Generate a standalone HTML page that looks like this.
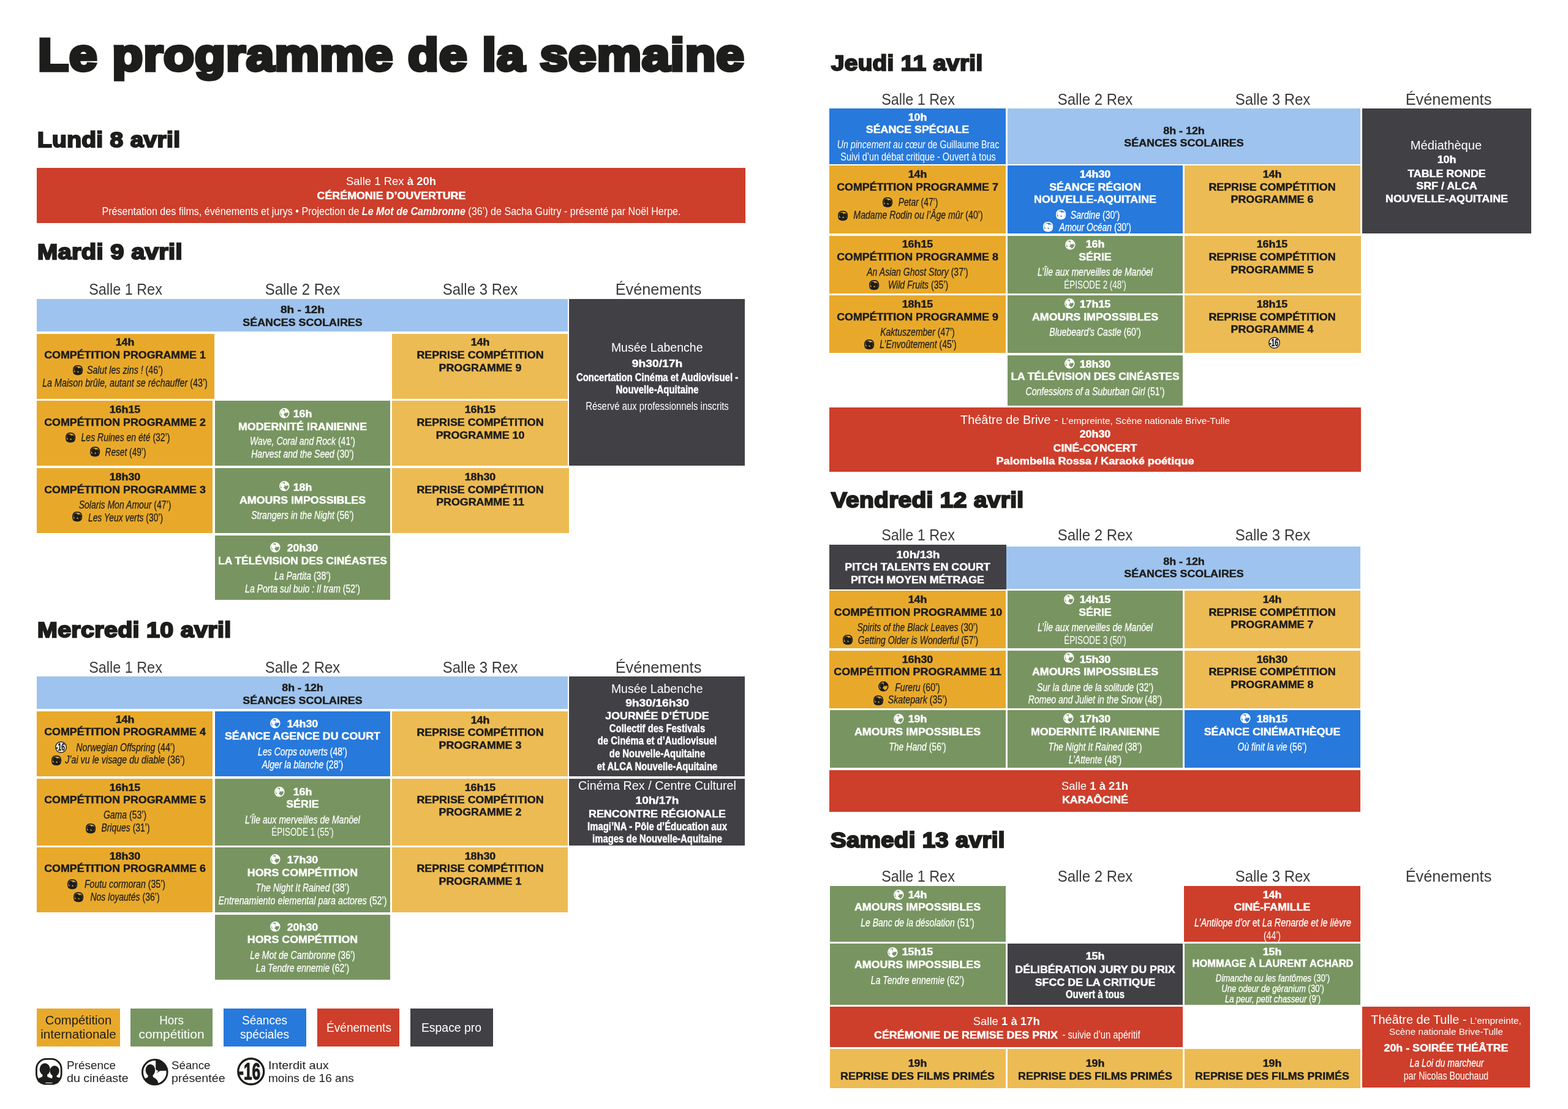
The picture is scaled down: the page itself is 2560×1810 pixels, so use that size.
<!DOCTYPE html>
<html lang="fr"><head><meta charset="utf-8"><title>Le programme de la semaine</title>
<style>
html,body{margin:0;padding:0;background:#fff}
body{width:2560px;height:1810px;position:relative;overflow:hidden;font-family:"Liberation Sans",sans-serif}
.bx{position:absolute}
.ln{position:absolute;width:1200px;height:24px;line-height:24px;text-align:center;white-space:nowrap;transform-origin:50% 50%}
.ll{position:absolute;height:24px;line-height:24px;white-space:nowrap;transform-origin:0 50%}
.B{font-weight:bold;-webkit-text-stroke:0.45px currentColor}.I{font-style:italic;-webkit-text-stroke:0.25px currentColor}.R{font-weight:normal}
.n{font-style:normal}
.hd{position:absolute;white-space:nowrap;font-weight:bold;color:#1d1d1b;paint-order:stroke fill;transform-origin:0 50%}
.ic{position:absolute;overflow:visible}
</style></head>
<body>
<div class="hd" style="left:62.3px;top:53.94px;font-size:73.2px;line-height:73.2px;letter-spacing:1.00px;-webkit-text-stroke:5.4px #1d1d1b;transform:scaleX(1.1151)">Le programme de la semaine</div>
<div class="hd" style="left:60.6px;top:211.11px;font-size:35.6px;line-height:35.6px;letter-spacing:0.30px;-webkit-text-stroke:2.3px #1d1d1b;transform:scaleX(1.0929)">Lundi 8 avril</div>
<div class="hd" style="left:60.6px;top:393.85px;font-size:35.8px;line-height:35.8px;letter-spacing:0.30px;-webkit-text-stroke:2.3px #1d1d1b;transform:scaleX(1.1128)">Mardi 9 avril</div>
<div class="hd" style="left:60.6px;top:1010.51px;font-size:35.6px;line-height:35.6px;letter-spacing:0.30px;-webkit-text-stroke:2.3px #1d1d1b;transform:scaleX(1.1067)">Mercredi 10 avril</div>
<div class="hd" style="left:1356.6px;top:85.71px;font-size:35.6px;line-height:35.6px;letter-spacing:0.30px;-webkit-text-stroke:2.3px #1d1d1b;transform:scaleX(1.0868)">Jeudi 11 avril</div>
<div class="hd" style="left:1356.6px;top:799.31px;font-size:35.6px;line-height:35.6px;letter-spacing:0.30px;-webkit-text-stroke:2.3px #1d1d1b;transform:scaleX(1.0920)">Vendredi 12 avril</div>
<div class="hd" style="left:1355.5px;top:1353.91px;font-size:35.6px;line-height:35.6px;letter-spacing:0.30px;-webkit-text-stroke:2.3px #1d1d1b;transform:scaleX(1.0802)">Samedi 13 avril</div>
<div class="bx" style="left:59.7px;top:274.2px;width:1157.7px;height:90.3px;background:#cd3e2b"></div>
<div class="ln R" style="left:38.5px;top:284.29px;font-size:18.5px;color:#ffffff;transform:scaleX(1.0000);">Salle 1 Rex <b>à 20h</b></div>
<div class="ln B" style="left:38.5px;top:308.25px;font-size:16.6px;color:#ffffff;transform:scaleX(1.0750);">CÉRÉMONIE D’OUVERTURE</div>
<div class="ln R" style="left:38.5px;top:332.76px;font-size:18.0px;color:#ffffff;transform:scaleX(0.8943);">Présentation des films, événements et jurys • Projection de <b><i>Le Mot de Cambronne</i></b> (36’) de Sacha Guitry - présenté par Noël Herpe.</div>
<div class="ln R" style="left:-395.2px;top:460.49px;font-size:26.0px;color:#3a3a3a;transform:scaleX(0.9002);">Salle 1 Rex</div>
<div class="ln R" style="left:-106.1px;top:460.49px;font-size:26.0px;color:#3a3a3a;transform:scaleX(0.9220);">Salle 2 Rex</div>
<div class="ln R" style="left:183.9px;top:460.49px;font-size:26.0px;color:#3a3a3a;transform:scaleX(0.9220);">Salle 3 Rex</div>
<div class="ln R" style="left:475.3px;top:460.49px;font-size:26.0px;color:#3a3a3a;transform:scaleX(0.9728);">Événements</div>
<div class="bx" style="left:59.7px;top:487.7px;width:867.6px;height:53.3px;background:#9dc3ee"></div>
<div class="ln B" style="left:-105.8px;top:494.05px;font-size:16.6px;color:#1d1d1b;transform:scaleX(1.1480);">8h - 12h</div>
<div class="ln B" style="left:-106.4px;top:515.15px;font-size:16.6px;color:#1d1d1b;transform:scaleX(1.0750);">SÉANCES SCOLAIRES</div>
<div class="bx" style="left:929.1px;top:487.5px;width:287.2px;height:272.5px;background:#414045"></div>
<div class="ln R" style="left:472.7px;top:554.64px;font-size:19.5px;color:#ffffff;transform:scaleX(1.0000);">Musée Labenche</div>
<div class="ln B" style="left:473.0px;top:582.25px;font-size:16.6px;color:#ffffff;transform:scaleX(1.1601);">9h30/17h</div>
<div class="ln B" style="left:472.7px;top:604.19px;font-size:18.5px;color:#ffffff;transform:scaleX(0.8050);">Concertation Cinéma et Audiovisuel -</div>
<div class="ln B" style="left:472.7px;top:623.89px;font-size:18.5px;color:#ffffff;transform:scaleX(0.8050);">Nouvelle-Aquitaine</div>
<div class="ln R" style="left:472.7px;top:651.06px;font-size:18.0px;color:#ffffff;transform:scaleX(0.8250);">Réservé aux professionnels inscrits</div>
<div class="bx" style="left:59.7px;top:544.8px;width:289.9px;height:106.2px;background:#e8a92b"></div>
<div class="ln B" style="left:-396.4px;top:547.25px;font-size:16.6px;color:#1d1d1b;transform:scaleX(1.0750);">14h</div>
<div class="ln B" style="left:-396.4px;top:567.85px;font-size:16.6px;color:#1d1d1b;transform:scaleX(1.0750);">COMPÉTITION PROGRAMME 1</div>
<div class="ln I" style="left:-395.6px;top:591.90px;font-size:17.6px;color:#1d1d1b;transform:scaleX(0.8090);">Salut les zins ! <span class="n">(46’)</span></div>
<div class="ln I" style="left:-395.6px;top:612.70px;font-size:17.6px;color:#1d1d1b;transform:scaleX(0.8135);">La Maison brûle, autant se réchauffer <span class="n">(43’)</span></div>
<svg class="ic" style="left:118.7px;top:596.1px;width:16.2px;height:16.2px;color:#1d1d1b" viewBox="0 0 44 44"><rect x="2.30" y="2.30" width="39.40" height="39.40" rx="16.500" ry="16.500" fill="none" stroke="currentColor" stroke-width="4.6"/><ellipse cx="31.400" cy="21" rx="8.6" ry="9.6" fill="currentColor"/><path d="M28.500 27.500h6l.4 3.200q3.200 1.200 6.600 2.600l-3.600 6.200h-12z" fill="currentColor"/><ellipse cx="15.400" cy="18.400" rx="9.6" ry="11.0" fill="currentColor"/><path d="M11.800 26h7.200l.600 4.600q4 2.600 9.400 3.400l2 5.500h-26.500l-2.200-4.700q4.600-2.200 9-4.200z" fill="currentColor"/><path d="M2.800 31.500q9 -2.500 19.200 1q10 -3 19.200 -1q-1.500 5.500 -5.700 8.300h-27q-4.200 -2.800 -5.700 -8.300z" fill="currentColor"/></svg>
<div class="bx" style="left:640.0px;top:544.8px;width:287.3px;height:106.2px;background:#edbb53"></div>
<div class="ln B" style="left:183.6px;top:547.25px;font-size:16.6px;color:#1d1d1b;transform:scaleX(1.0750);">14h</div>
<div class="ln B" style="left:183.6px;top:568.25px;font-size:16.6px;color:#1d1d1b;transform:scaleX(1.0750);">REPRISE COMPÉTITION</div>
<div class="ln B" style="left:183.6px;top:589.25px;font-size:16.6px;color:#1d1d1b;transform:scaleX(1.0750);">PROGRAMME 9</div>
<div class="bx" style="left:59.7px;top:654.0px;width:287.8px;height:106.0px;background:#e8a92b"></div>
<div class="ln B" style="left:-396.4px;top:656.85px;font-size:16.6px;color:#1d1d1b;transform:scaleX(1.0750);">16h15</div>
<div class="ln B" style="left:-396.4px;top:677.85px;font-size:16.6px;color:#1d1d1b;transform:scaleX(1.0750);">COMPÉTITION PROGRAMME 2</div>
<div class="ln I" style="left:-395.4px;top:702.30px;font-size:17.6px;color:#1d1d1b;transform:scaleX(0.7965);">Les Ruines en été <span class="n">(32’)</span></div>
<div class="ln I" style="left:-395.4px;top:725.70px;font-size:17.6px;color:#1d1d1b;transform:scaleX(0.7773);">Reset <span class="n">(49’)</span></div>
<svg class="ic" style="left:107.3px;top:706.0px;width:16.2px;height:16.2px;color:#1d1d1b" viewBox="0 0 44 44"><rect x="2.30" y="2.30" width="39.40" height="39.40" rx="16.500" ry="16.500" fill="none" stroke="currentColor" stroke-width="4.6"/><ellipse cx="31.400" cy="21" rx="8.6" ry="9.6" fill="currentColor"/><path d="M28.500 27.500h6l.4 3.200q3.200 1.200 6.600 2.600l-3.600 6.200h-12z" fill="currentColor"/><ellipse cx="15.400" cy="18.400" rx="9.6" ry="11.0" fill="currentColor"/><path d="M11.800 26h7.200l.600 4.600q4 2.600 9.400 3.400l2 5.500h-26.500l-2.200-4.700q4.600-2.200 9-4.200z" fill="currentColor"/><path d="M2.800 31.500q9 -2.500 19.200 1q10 -3 19.200 -1q-1.500 5.500 -5.700 8.300h-27q-4.200 -2.800 -5.700 -8.300z" fill="currentColor"/></svg>
<svg class="ic" style="left:146.9px;top:728.9px;width:16.2px;height:16.2px;color:#1d1d1b" viewBox="0 0 44 44"><rect x="2.30" y="2.30" width="39.40" height="39.40" rx="16.500" ry="16.500" fill="none" stroke="currentColor" stroke-width="4.6"/><ellipse cx="31.400" cy="21" rx="8.6" ry="9.6" fill="currentColor"/><path d="M28.500 27.500h6l.4 3.200q3.200 1.200 6.600 2.600l-3.600 6.200h-12z" fill="currentColor"/><ellipse cx="15.400" cy="18.400" rx="9.6" ry="11.0" fill="currentColor"/><path d="M11.800 26h7.200l.600 4.600q4 2.600 9.400 3.400l2 5.500h-26.500l-2.200-4.700q4.600-2.200 9-4.200z" fill="currentColor"/><path d="M2.800 31.500q9 -2.500 19.200 1q10 -3 19.200 -1q-1.500 5.500 -5.700 8.300h-27q-4.200 -2.800 -5.700 -8.300z" fill="currentColor"/></svg>
<div class="bx" style="left:350.6px;top:654.0px;width:286.1px;height:106.0px;background:#789561"></div>
<div class="ln B" style="left:-106.3px;top:664.05px;font-size:16.6px;color:#ffffff;transform:scaleX(1.0750);">16h</div>
<div class="ln B" style="left:-106.3px;top:684.65px;font-size:16.6px;color:#ffffff;transform:scaleX(1.0750);">MODERNITÉ IRANIENNE</div>
<div class="ln I" style="left:-106.3px;top:707.90px;font-size:17.6px;color:#ffffff;transform:scaleX(0.7970);">Wave, Coral and Rock <span class="n">(41’)</span></div>
<div class="ln I" style="left:-106.3px;top:728.90px;font-size:17.6px;color:#ffffff;transform:scaleX(0.7970);">Harvest and the Seed <span class="n">(30’)</span></div>
<svg class="ic" style="left:455.5px;top:666.4px;width:16.6px;height:16.6px;color:#ffffff" viewBox="0 0 44 44"><circle cx="22" cy="22" r="19.80" fill="none" stroke="currentColor" stroke-width="4.4"/><path d="M23.400 1.600v15.600q1.200 2.400 4.400 2.600l-3.400 4l6.200-3.800l11.800-.4a20.600 20.600 0 0 0-19-18z" fill="currentColor"/><ellipse cx="14.600" cy="18.800" rx="8.7" ry="10.5" fill="currentColor"/><path d="M11 26h7.400l.800 4.400q5.600 2.600 7.400 6.200l1.400 5.400q-3.200 1.200 -6 1.200q-10.800 0 -17.600 -9.200q3 -2.400 6 -3.400z" fill="currentColor"/></svg>
<div class="bx" style="left:640.0px;top:654.0px;width:287.3px;height:106.0px;background:#edbb53"></div>
<div class="ln B" style="left:183.6px;top:657.25px;font-size:16.6px;color:#1d1d1b;transform:scaleX(1.0750);">16h15</div>
<div class="ln B" style="left:183.6px;top:678.25px;font-size:16.6px;color:#1d1d1b;transform:scaleX(1.0750);">REPRISE COMPÉTITION</div>
<div class="ln B" style="left:183.6px;top:698.95px;font-size:16.6px;color:#1d1d1b;transform:scaleX(1.0750);">PROGRAMME 10</div>
<div class="bx" style="left:59.7px;top:763.8px;width:287.8px;height:106.0px;background:#e8a92b"></div>
<div class="ln B" style="left:-396.4px;top:767.25px;font-size:16.6px;color:#1d1d1b;transform:scaleX(1.0750);">18h30</div>
<div class="ln B" style="left:-396.4px;top:787.85px;font-size:16.6px;color:#1d1d1b;transform:scaleX(1.0750);">COMPÉTITION PROGRAMME 3</div>
<div class="ln I" style="left:-396.4px;top:811.50px;font-size:17.6px;color:#1d1d1b;transform:scaleX(0.7970);">Solaris Mon Amour <span class="n">(47’)</span></div>
<div class="ln I" style="left:-395.1px;top:832.70px;font-size:17.6px;color:#1d1d1b;transform:scaleX(0.7869);">Les Yeux verts <span class="n">(30’)</span></div>
<svg class="ic" style="left:118.4px;top:835.3px;width:16.2px;height:16.2px;color:#1d1d1b" viewBox="0 0 44 44"><rect x="2.30" y="2.30" width="39.40" height="39.40" rx="16.500" ry="16.500" fill="none" stroke="currentColor" stroke-width="4.6"/><ellipse cx="31.400" cy="21" rx="8.6" ry="9.6" fill="currentColor"/><path d="M28.500 27.500h6l.4 3.200q3.200 1.200 6.600 2.600l-3.600 6.200h-12z" fill="currentColor"/><ellipse cx="15.400" cy="18.400" rx="9.6" ry="11.0" fill="currentColor"/><path d="M11.800 26h7.200l.600 4.600q4 2.600 9.400 3.400l2 5.500h-26.500l-2.200-4.700q4.600-2.200 9-4.200z" fill="currentColor"/><path d="M2.800 31.500q9 -2.500 19.200 1q10 -3 19.200 -1q-1.500 5.500 -5.700 8.300h-27q-4.200 -2.800 -5.700 -8.300z" fill="currentColor"/></svg>
<div class="bx" style="left:350.6px;top:763.8px;width:286.1px;height:106.0px;background:#789561"></div>
<div class="ln B" style="left:-106.3px;top:783.85px;font-size:16.6px;color:#ffffff;transform:scaleX(1.0750);">18h</div>
<div class="ln B" style="left:-106.3px;top:804.55px;font-size:16.6px;color:#ffffff;transform:scaleX(1.0750);">AMOURS IMPOSSIBLES</div>
<div class="ln I" style="left:-106.3px;top:828.90px;font-size:17.6px;color:#ffffff;transform:scaleX(0.7970);">Strangers in the Night <span class="n">(56’)</span></div>
<svg class="ic" style="left:455.5px;top:785.1px;width:16.6px;height:16.6px;color:#ffffff" viewBox="0 0 44 44"><circle cx="22" cy="22" r="19.80" fill="none" stroke="currentColor" stroke-width="4.4"/><path d="M23.400 1.600v15.600q1.200 2.400 4.400 2.600l-3.400 4l6.200-3.800l11.800-.4a20.600 20.600 0 0 0-19-18z" fill="currentColor"/><ellipse cx="14.600" cy="18.800" rx="8.7" ry="10.5" fill="currentColor"/><path d="M11 26h7.400l.800 4.400q5.600 2.600 7.400 6.200l1.400 5.400q-3.200 1.200 -6 1.200q-10.800 0 -17.600 -9.200q3 -2.400 6 -3.400z" fill="currentColor"/></svg>
<div class="bx" style="left:640.0px;top:763.8px;width:288.7px;height:106.0px;background:#edbb53"></div>
<div class="ln B" style="left:183.6px;top:767.25px;font-size:16.6px;color:#1d1d1b;transform:scaleX(1.0750);">18h30</div>
<div class="ln B" style="left:183.6px;top:787.85px;font-size:16.6px;color:#1d1d1b;transform:scaleX(1.0750);">REPRISE COMPÉTITION</div>
<div class="ln B" style="left:183.6px;top:808.45px;font-size:16.6px;color:#1d1d1b;transform:scaleX(1.0750);">PROGRAMME 11</div>
<div class="bx" style="left:350.6px;top:873.7px;width:286.1px;height:105.3px;background:#789561"></div>
<div class="ln B" style="left:-106.3px;top:883.25px;font-size:16.6px;color:#ffffff;transform:scaleX(1.0750);">20h30</div>
<div class="ln B" style="left:-106.4px;top:903.75px;font-size:16.6px;color:#ffffff;transform:scaleX(1.0487);">LA TÉLÉVISION DES CINÉASTES</div>
<div class="ln I" style="left:-106.3px;top:927.50px;font-size:17.6px;color:#ffffff;transform:scaleX(0.7970);">La Partita <span class="n">(38’)</span></div>
<div class="ln I" style="left:-106.3px;top:948.70px;font-size:17.6px;color:#ffffff;transform:scaleX(0.7970);">La Porta sul buio : Il tram <span class="n">(52’)</span></div>
<svg class="ic" style="left:440.5px;top:884.9px;width:16.6px;height:16.6px;color:#ffffff" viewBox="0 0 44 44"><circle cx="22" cy="22" r="19.80" fill="none" stroke="currentColor" stroke-width="4.4"/><path d="M23.400 1.600v15.600q1.200 2.400 4.400 2.600l-3.400 4l6.200-3.800l11.800-.4a20.600 20.600 0 0 0-19-18z" fill="currentColor"/><ellipse cx="14.600" cy="18.800" rx="8.7" ry="10.5" fill="currentColor"/><path d="M11 26h7.400l.800 4.400q5.600 2.600 7.400 6.200l1.400 5.400q-3.200 1.200 -6 1.200q-10.800 0 -17.600 -9.200q3 -2.400 6 -3.400z" fill="currentColor"/></svg>
<div class="ln R" style="left:-395.2px;top:1077.09px;font-size:26.0px;color:#3a3a3a;transform:scaleX(0.9002);">Salle 1 Rex</div>
<div class="ln R" style="left:-106.1px;top:1077.09px;font-size:26.0px;color:#3a3a3a;transform:scaleX(0.9220);">Salle 2 Rex</div>
<div class="ln R" style="left:183.9px;top:1077.09px;font-size:26.0px;color:#3a3a3a;transform:scaleX(0.9220);">Salle 3 Rex</div>
<div class="ln R" style="left:475.3px;top:1077.09px;font-size:26.0px;color:#3a3a3a;transform:scaleX(0.9728);">Événements</div>
<div class="bx" style="left:59.7px;top:1104.2px;width:867.6px;height:53.0px;background:#9dc3ee"></div>
<div class="ln B" style="left:-106.4px;top:1110.95px;font-size:16.6px;color:#1d1d1b;transform:scaleX(1.0750);">8h - 12h</div>
<div class="ln B" style="left:-106.4px;top:1131.55px;font-size:16.6px;color:#1d1d1b;transform:scaleX(1.0750);">SÉANCES SCOLAIRES</div>
<div class="bx" style="left:929.1px;top:1104.2px;width:287.2px;height:162.8px;background:#414045"></div>
<div class="ln R" style="left:472.7px;top:1112.24px;font-size:19.5px;color:#ffffff;transform:scaleX(1.0000);">Musée Labenche</div>
<div class="ln B" style="left:472.8px;top:1136.05px;font-size:16.6px;color:#ffffff;transform:scaleX(1.1589);">9h30/16h30</div>
<div class="ln B" style="left:472.7px;top:1156.75px;font-size:16.6px;color:#ffffff;transform:scaleX(1.0750);">JOURNÉE D’ÉTUDE</div>
<div class="ln B" style="left:472.7px;top:1176.59px;font-size:18.5px;color:#ffffff;transform:scaleX(0.8050);">Collectif des Festivals</div>
<div class="ln B" style="left:472.7px;top:1197.29px;font-size:18.5px;color:#ffffff;transform:scaleX(0.8050);">de Cinéma et d’Audiovisuel</div>
<div class="ln B" style="left:472.7px;top:1217.99px;font-size:18.5px;color:#ffffff;transform:scaleX(0.8050);">de Nouvelle-Aquitaine</div>
<div class="ln B" style="left:472.7px;top:1238.59px;font-size:18.5px;color:#ffffff;transform:scaleX(0.8050);">et ALCA Nouvelle-Aquitaine</div>
<div class="bx" style="left:929.1px;top:1271.0px;width:287.2px;height:108.6px;background:#414045"></div>
<div class="ln R" style="left:473.0px;top:1269.94px;font-size:19.5px;color:#ffffff;transform:scaleX(1.0130);">Cinéma Rex / Centre Culturel</div>
<div class="ln B" style="left:473.2px;top:1294.95px;font-size:16.6px;color:#ffffff;transform:scaleX(1.1470);">10h/17h</div>
<div class="ln B" style="left:472.7px;top:1317.25px;font-size:16.6px;color:#ffffff;transform:scaleX(1.0750);">RENCONTRE RÉGIONALE</div>
<div class="ln B" style="left:472.7px;top:1336.59px;font-size:18.5px;color:#ffffff;transform:scaleX(0.8050);">Imagi’NA - Pôle d’Éducation aux</div>
<div class="ln B" style="left:472.7px;top:1356.59px;font-size:18.5px;color:#ffffff;transform:scaleX(0.8050);">images de Nouvelle-Aquitaine</div>
<div class="bx" style="left:59.7px;top:1161.1px;width:287.8px;height:105.9px;background:#e8a92b"></div>
<div class="ln B" style="left:-396.4px;top:1163.15px;font-size:16.6px;color:#1d1d1b;transform:scaleX(1.0750);">14h</div>
<div class="ln B" style="left:-396.4px;top:1183.35px;font-size:16.6px;color:#1d1d1b;transform:scaleX(1.0750);">COMPÉTITION PROGRAMME 4</div>
<div class="ln I" style="left:-395.5px;top:1208.30px;font-size:17.6px;color:#1d1d1b;transform:scaleX(0.8051);">Norwegian Offspring <span class="n">(44’)</span></div>
<div class="ln I" style="left:-395.6px;top:1228.30px;font-size:17.6px;color:#1d1d1b;transform:scaleX(0.8134);">J’ai vu le visage du diable <span class="n">(36’)</span></div>
<svg class="ic" style="left:89.9px;top:1210.3px;width:19px;height:19px;color:#1d1d1b" viewBox="0 0 44 44"><circle cx="22" cy="22" r="20.300" fill="#fff" stroke="currentColor" stroke-width="3.200"/><text transform="translate(19.800 34.600) scale(0.64 1)" text-anchor="middle" font-family="Liberation Sans, sans-serif" font-weight="bold" font-size="37" fill="currentColor" stroke="currentColor" stroke-width="1.200" letter-spacing="0">-16</text></svg>
<svg class="ic" style="left:84.1px;top:1232.9px;width:16.2px;height:16.2px;color:#1d1d1b" viewBox="0 0 44 44"><rect x="2.30" y="2.30" width="39.40" height="39.40" rx="16.500" ry="16.500" fill="none" stroke="currentColor" stroke-width="4.6"/><ellipse cx="31.400" cy="21" rx="8.6" ry="9.6" fill="currentColor"/><path d="M28.500 27.500h6l.4 3.200q3.200 1.200 6.600 2.600l-3.600 6.200h-12z" fill="currentColor"/><ellipse cx="15.400" cy="18.400" rx="9.6" ry="11.0" fill="currentColor"/><path d="M11.800 26h7.200l.600 4.600q4 2.600 9.400 3.400l2 5.500h-26.500l-2.200-4.700q4.600-2.200 9-4.200z" fill="currentColor"/><path d="M2.800 31.500q9 -2.500 19.200 1q10 -3 19.200 -1q-1.500 5.500 -5.700 8.300h-27q-4.200 -2.800 -5.700 -8.300z" fill="currentColor"/></svg>
<div class="bx" style="left:350.6px;top:1161.1px;width:286.1px;height:105.9px;background:#2779db"></div>
<div class="ln B" style="left:-106.3px;top:1169.55px;font-size:16.6px;color:#ffffff;transform:scaleX(1.0750);">14h30</div>
<div class="ln B" style="left:-106.3px;top:1190.45px;font-size:16.6px;color:#ffffff;transform:scaleX(1.0750);">SÉANCE AGENCE DU COURT</div>
<div class="ln I" style="left:-106.3px;top:1214.90px;font-size:17.6px;color:#ffffff;transform:scaleX(0.7970);">Les Corps ouverts <span class="n">(48’)</span></div>
<div class="ln I" style="left:-106.3px;top:1235.50px;font-size:17.6px;color:#ffffff;transform:scaleX(0.7970);">Alger la blanche <span class="n">(28’)</span></div>
<svg class="ic" style="left:440.7px;top:1172.3px;width:16.6px;height:16.6px;color:#ffffff" viewBox="0 0 44 44"><circle cx="22" cy="22" r="19.80" fill="none" stroke="currentColor" stroke-width="4.4"/><path d="M23.400 1.600v15.600q1.200 2.400 4.400 2.600l-3.400 4l6.200-3.800l11.800-.4a20.600 20.600 0 0 0-19-18z" fill="currentColor"/><ellipse cx="14.600" cy="18.800" rx="8.7" ry="10.5" fill="currentColor"/><path d="M11 26h7.400l.800 4.400q5.600 2.600 7.400 6.200l1.400 5.400q-3.200 1.200 -6 1.200q-10.800 0 -17.600 -9.200q3 -2.400 6 -3.400z" fill="currentColor"/></svg>
<div class="bx" style="left:640.0px;top:1161.1px;width:287.3px;height:105.9px;background:#edbb53"></div>
<div class="ln B" style="left:183.6px;top:1163.55px;font-size:16.6px;color:#1d1d1b;transform:scaleX(1.0750);">14h</div>
<div class="ln B" style="left:183.6px;top:1183.95px;font-size:16.6px;color:#1d1d1b;transform:scaleX(1.0750);">REPRISE COMPÉTITION</div>
<div class="ln B" style="left:183.6px;top:1204.65px;font-size:16.6px;color:#1d1d1b;transform:scaleX(1.0750);">PROGRAMME 3</div>
<div class="bx" style="left:59.7px;top:1271.0px;width:287.8px;height:108.6px;background:#e8a92b"></div>
<div class="ln B" style="left:-396.4px;top:1273.75px;font-size:16.6px;color:#1d1d1b;transform:scaleX(1.0750);">16h15</div>
<div class="ln B" style="left:-396.4px;top:1293.75px;font-size:16.6px;color:#1d1d1b;transform:scaleX(1.0750);">COMPÉTITION PROGRAMME 5</div>
<div class="ln I" style="left:-396.4px;top:1318.00px;font-size:17.6px;color:#1d1d1b;transform:scaleX(0.7970);">Gama <span class="n">(53’)</span></div>
<div class="ln I" style="left:-395.4px;top:1338.70px;font-size:17.6px;color:#1d1d1b;transform:scaleX(0.7940);">Briques <span class="n">(31’)</span></div>
<svg class="ic" style="left:140.2px;top:1343.5px;width:16.2px;height:16.2px;color:#1d1d1b" viewBox="0 0 44 44"><rect x="2.30" y="2.30" width="39.40" height="39.40" rx="16.500" ry="16.500" fill="none" stroke="currentColor" stroke-width="4.6"/><ellipse cx="31.400" cy="21" rx="8.6" ry="9.6" fill="currentColor"/><path d="M28.500 27.500h6l.4 3.200q3.200 1.200 6.600 2.600l-3.600 6.200h-12z" fill="currentColor"/><ellipse cx="15.400" cy="18.400" rx="9.6" ry="11.0" fill="currentColor"/><path d="M11.800 26h7.200l.600 4.600q4 2.600 9.400 3.400l2 5.500h-26.500l-2.200-4.700q4.600-2.200 9-4.200z" fill="currentColor"/><path d="M2.800 31.500q9 -2.500 19.200 1q10 -3 19.200 -1q-1.500 5.500 -5.700 8.300h-27q-4.200 -2.800 -5.700 -8.300z" fill="currentColor"/></svg>
<div class="bx" style="left:350.6px;top:1271.0px;width:286.1px;height:108.6px;background:#789561"></div>
<div class="ln B" style="left:-106.3px;top:1280.95px;font-size:16.6px;color:#ffffff;transform:scaleX(1.0750);">16h</div>
<div class="ln B" style="left:-106.3px;top:1301.05px;font-size:16.6px;color:#ffffff;transform:scaleX(1.0750);">SÉRIE</div>
<div class="ln I" style="left:-106.3px;top:1326.40px;font-size:17.6px;color:#ffffff;transform:scaleX(0.7970);">L’Île aux merveilles de Manöel</div>
<div class="ln R" style="left:-106.3px;top:1346.36px;font-size:18.0px;color:#ffffff;transform:scaleX(0.7450);">ÉPISODE 1 (55’)</div>
<svg class="ic" style="left:447.7px;top:1283.7px;width:16.6px;height:16.6px;color:#ffffff" viewBox="0 0 44 44"><circle cx="22" cy="22" r="19.80" fill="none" stroke="currentColor" stroke-width="4.4"/><path d="M23.400 1.600v15.600q1.200 2.400 4.400 2.600l-3.400 4l6.200-3.800l11.800-.4a20.600 20.600 0 0 0-19-18z" fill="currentColor"/><ellipse cx="14.600" cy="18.800" rx="8.7" ry="10.5" fill="currentColor"/><path d="M11 26h7.400l.800 4.400q5.600 2.600 7.400 6.200l1.400 5.400q-3.200 1.200 -6 1.200q-10.800 0 -17.600 -9.200q3 -2.400 6 -3.400z" fill="currentColor"/></svg>
<div class="bx" style="left:640.0px;top:1271.0px;width:287.3px;height:108.6px;background:#edbb53"></div>
<div class="ln B" style="left:183.6px;top:1273.75px;font-size:16.6px;color:#1d1d1b;transform:scaleX(1.0750);">16h15</div>
<div class="ln B" style="left:183.6px;top:1293.75px;font-size:16.6px;color:#1d1d1b;transform:scaleX(1.0750);">REPRISE COMPÉTITION</div>
<div class="ln B" style="left:183.6px;top:1314.45px;font-size:16.6px;color:#1d1d1b;transform:scaleX(1.0750);">PROGRAMME 2</div>
<div class="bx" style="left:59.7px;top:1383.0px;width:287.8px;height:105.9px;background:#e8a92b"></div>
<div class="ln B" style="left:-396.4px;top:1385.75px;font-size:16.6px;color:#1d1d1b;transform:scaleX(1.0750);">18h30</div>
<div class="ln B" style="left:-396.4px;top:1406.35px;font-size:16.6px;color:#1d1d1b;transform:scaleX(1.0750);">COMPÉTITION PROGRAMME 6</div>
<div class="ln I" style="left:-395.6px;top:1430.60px;font-size:17.6px;color:#1d1d1b;transform:scaleX(0.8041);">Foutu cormoran <span class="n">(35’)</span></div>
<div class="ln I" style="left:-395.7px;top:1451.90px;font-size:17.6px;color:#1d1d1b;transform:scaleX(0.7983);">Nos loyautés <span class="n">(36’)</span></div>
<svg class="ic" style="left:109.5px;top:1434.9px;width:16.2px;height:16.2px;color:#1d1d1b" viewBox="0 0 44 44"><rect x="2.30" y="2.30" width="39.40" height="39.40" rx="16.500" ry="16.500" fill="none" stroke="currentColor" stroke-width="4.6"/><ellipse cx="31.400" cy="21" rx="8.6" ry="9.6" fill="currentColor"/><path d="M28.500 27.500h6l.4 3.200q3.200 1.200 6.600 2.600l-3.600 6.200h-12z" fill="currentColor"/><ellipse cx="15.400" cy="18.400" rx="9.6" ry="11.0" fill="currentColor"/><path d="M11.800 26h7.200l.600 4.600q4 2.600 9.400 3.400l2 5.500h-26.500l-2.200-4.700q4.600-2.200 9-4.200z" fill="currentColor"/><path d="M2.800 31.500q9 -2.500 19.200 1q10 -3 19.200 -1q-1.500 5.500 -5.700 8.300h-27q-4.200 -2.800 -5.700 -8.300z" fill="currentColor"/></svg>
<svg class="ic" style="left:120.1px;top:1455.6px;width:16.2px;height:16.2px;color:#1d1d1b" viewBox="0 0 44 44"><rect x="2.30" y="2.30" width="39.40" height="39.40" rx="16.500" ry="16.500" fill="none" stroke="currentColor" stroke-width="4.6"/><ellipse cx="31.400" cy="21" rx="8.6" ry="9.6" fill="currentColor"/><path d="M28.500 27.500h6l.4 3.200q3.200 1.200 6.600 2.600l-3.600 6.200h-12z" fill="currentColor"/><ellipse cx="15.400" cy="18.400" rx="9.6" ry="11.0" fill="currentColor"/><path d="M11.800 26h7.200l.600 4.600q4 2.600 9.400 3.400l2 5.500h-26.500l-2.200-4.700q4.600-2.200 9-4.200z" fill="currentColor"/><path d="M2.800 31.500q9 -2.500 19.200 1q10 -3 19.200 -1q-1.500 5.500 -5.700 8.300h-27q-4.200 -2.800 -5.700 -8.300z" fill="currentColor"/></svg>
<div class="bx" style="left:350.6px;top:1383.0px;width:286.1px;height:105.9px;background:#789561"></div>
<div class="ln B" style="left:-106.3px;top:1391.95px;font-size:16.6px;color:#ffffff;transform:scaleX(1.0750);">17h30</div>
<div class="ln B" style="left:-106.3px;top:1412.55px;font-size:16.6px;color:#ffffff;transform:scaleX(1.0750);">HORS COMPÉTITION</div>
<div class="ln I" style="left:-106.3px;top:1436.80px;font-size:17.6px;color:#ffffff;transform:scaleX(0.7970);">The Night It Rained <span class="n">(38’)</span></div>
<div class="ln I" style="left:-106.0px;top:1457.90px;font-size:17.6px;color:#ffffff;transform:scaleX(0.8127);">Entrenamiento elemental para actores <span class="n">(52’)</span></div>
<svg class="ic" style="left:440.5px;top:1394.2px;width:16.6px;height:16.6px;color:#ffffff" viewBox="0 0 44 44"><circle cx="22" cy="22" r="19.80" fill="none" stroke="currentColor" stroke-width="4.4"/><path d="M23.400 1.600v15.600q1.200 2.400 4.400 2.600l-3.400 4l6.200-3.800l11.800-.4a20.600 20.600 0 0 0-19-18z" fill="currentColor"/><ellipse cx="14.600" cy="18.800" rx="8.7" ry="10.5" fill="currentColor"/><path d="M11 26h7.400l.800 4.400q5.600 2.600 7.400 6.200l1.400 5.400q-3.200 1.200 -6 1.200q-10.800 0 -17.600 -9.200q3 -2.400 6 -3.400z" fill="currentColor"/></svg>
<div class="bx" style="left:640.0px;top:1383.0px;width:287.3px;height:105.9px;background:#edbb53"></div>
<div class="ln B" style="left:183.6px;top:1385.75px;font-size:16.6px;color:#1d1d1b;transform:scaleX(1.0750);">18h30</div>
<div class="ln B" style="left:183.6px;top:1406.35px;font-size:16.6px;color:#1d1d1b;transform:scaleX(1.0750);">REPRISE COMPÉTITION</div>
<div class="ln B" style="left:183.6px;top:1427.05px;font-size:16.6px;color:#1d1d1b;transform:scaleX(1.0750);">PROGRAMME 1</div>
<div class="bx" style="left:350.6px;top:1492.8px;width:286.1px;height:106.5px;background:#789561"></div>
<div class="ln B" style="left:-106.3px;top:1501.75px;font-size:16.6px;color:#ffffff;transform:scaleX(1.0750);">20h30</div>
<div class="ln B" style="left:-106.3px;top:1522.35px;font-size:16.6px;color:#ffffff;transform:scaleX(1.0750);">HORS COMPÉTITION</div>
<div class="ln I" style="left:-106.3px;top:1546.60px;font-size:17.6px;color:#ffffff;transform:scaleX(0.7970);">Le Mot de Cambronne <span class="n">(36’)</span></div>
<div class="ln I" style="left:-106.3px;top:1567.80px;font-size:17.6px;color:#ffffff;transform:scaleX(0.7970);">La Tendre ennemie <span class="n">(62’)</span></div>
<svg class="ic" style="left:440.5px;top:1503.5px;width:16.6px;height:16.6px;color:#ffffff" viewBox="0 0 44 44"><circle cx="22" cy="22" r="19.80" fill="none" stroke="currentColor" stroke-width="4.4"/><path d="M23.400 1.600v15.600q1.200 2.400 4.400 2.600l-3.400 4l6.200-3.800l11.800-.4a20.600 20.600 0 0 0-19-18z" fill="currentColor"/><ellipse cx="14.600" cy="18.800" rx="8.7" ry="10.5" fill="currentColor"/><path d="M11 26h7.400l.800 4.400q5.600 2.600 7.400 6.200l1.400 5.400q-3.200 1.200 -6 1.200q-10.800 0 -17.600 -9.200q3 -2.400 6 -3.400z" fill="currentColor"/></svg>
<div class="bx" style="left:60.2px;top:1646.3px;width:135.5px;height:61.3px;background:#e8a92b"></div>
<div class="ln R" style="left:-471.8px;top:1652.87px;font-size:20.0px;color:#1d1d1b;transform:scaleX(1.0158);">Compétition</div>
<div class="ln R" style="left:-472.1px;top:1675.87px;font-size:20.0px;color:#1d1d1b;transform:scaleX(1.0292);">internationale</div>
<div class="bx" style="left:213.0px;top:1646.3px;width:134.3px;height:61.3px;background:#789561"></div>
<div class="ln R" style="left:-319.9px;top:1652.87px;font-size:20.0px;color:#ffffff;transform:scaleX(0.9400);">Hors</div>
<div class="ln R" style="left:-319.6px;top:1675.87px;font-size:20.0px;color:#ffffff;transform:scaleX(1.0481);">compétition</div>
<div class="bx" style="left:365.1px;top:1646.3px;width:134.9px;height:61.3px;background:#2779db"></div>
<div class="ln R" style="left:-167.6px;top:1652.87px;font-size:20.0px;color:#ffffff;transform:scaleX(0.9506);">Séances</div>
<div class="ln R" style="left:-167.6px;top:1675.87px;font-size:20.0px;color:#ffffff;transform:scaleX(0.9617);">spéciales</div>
<div class="bx" style="left:517.9px;top:1646.3px;width:134.3px;height:61.3px;background:#cd3e2b"></div>
<div class="ln R" style="left:-14.5px;top:1664.67px;font-size:20.0px;color:#ffffff;transform:scaleX(0.9517);">Événements</div>
<div class="bx" style="left:670.0px;top:1646.3px;width:135.0px;height:61.3px;background:#414045"></div>
<div class="ln R" style="left:136.9px;top:1664.67px;font-size:20.0px;color:#ffffff;transform:scaleX(0.9706);">Espace pro</div>
<svg class="ic" style="left:58.1px;top:1727.0px;width:43.6px;height:43.6px;color:#1d1d1b" viewBox="0 0 44 44"><rect x="1.45" y="1.45" width="41.10" height="41.10" rx="16.500" ry="16.500" fill="none" stroke="currentColor" stroke-width="2.9"/><ellipse cx="31.400" cy="21" rx="7.7" ry="8.7" fill="currentColor"/><path d="M28.500 27.500h6l.4 3.200q3.200 1.200 6.600 2.600l-3.600 6.200h-12z" fill="currentColor"/><ellipse cx="15.400" cy="18.400" rx="8.7" ry="10.1" fill="currentColor"/><path d="M11.800 26h7.200l.600 4.600q4 2.600 9.400 3.400l2 5.500h-26.500l-2.200-4.700q4.600-2.200 9-4.200z" fill="currentColor"/><path d="M2.800 33.500q9 -2.500 19.200 1q10 -3 19.200 -1q-1.500 5.500 -5.700 8.300h-27q-4.200 -2.800 -5.700 -8.300z" fill="currentColor"/><rect x="16.400" y="40.300" width="11.200" height="1.100" fill="#fff"/></svg>
<div class="ll R" style="left:108.5px;top:1726.76px;font-size:18.0px;color:#1d1d1b;transform:scaleX(1.0507);">Présence</div>
<div class="ll R" style="left:108.5px;top:1747.66px;font-size:18.0px;color:#1d1d1b;transform:scaleX(1.0926);">du cinéaste</div>
<svg class="ic" style="left:230.8px;top:1727.6px;width:43.6px;height:43.6px;color:#1d1d1b" viewBox="0 0 44 44"><circle cx="22" cy="22" r="20.50" fill="none" stroke="currentColor" stroke-width="3.0"/><path d="M23.400 1.600v15.600q1.200 2.400 4.400 2.600l-3.400 4l6.200-3.800l11.800-.4a20.600 20.600 0 0 0-19-18z" fill="currentColor"/><ellipse cx="14.600" cy="18.800" rx="7.9" ry="9.7" fill="currentColor"/><path d="M11 26h7.400l.800 4.400q5.600 2.600 7.400 6.200l1.400 5.400q-3.200 1.200 -6 1.200q-10.800 0 -17.600 -9.200q3 -2.400 6 -3.400z" fill="currentColor"/></svg>
<div class="ll R" style="left:279.6px;top:1726.76px;font-size:18.0px;color:#1d1d1b;transform:scaleX(1.0399);">Séance</div>
<div class="ll R" style="left:280.4px;top:1747.66px;font-size:18.0px;color:#1d1d1b;transform:scaleX(1.0941);">présentée</div>
<svg class="ic" style="left:387.1px;top:1725.7px;width:45.5px;height:45.5px;color:#1d1d1b" viewBox="0 0 44 44"><circle cx="22" cy="22" r="20.300" fill="none" stroke="currentColor" stroke-width="3.200"/><text transform="translate(19.800 34.600) scale(0.64 1)" text-anchor="middle" font-family="Liberation Sans, sans-serif" font-weight="bold" font-size="37" fill="currentColor" stroke="currentColor" stroke-width="1.200" letter-spacing="0">-16</text></svg>
<div class="ll R" style="left:437.7px;top:1726.76px;font-size:18.0px;color:#1d1d1b;transform:scaleX(1.1093);">Interdit aux</div>
<div class="ll R" style="left:437.7px;top:1747.66px;font-size:18.0px;color:#1d1d1b;transform:scaleX(1.0583);">moins de 16 ans</div>
<div class="ln R" style="left:899.1px;top:149.89px;font-size:26.0px;color:#3a3a3a;transform:scaleX(0.9002);">Salle 1 Rex</div>
<div class="ln R" style="left:1188.0px;top:149.89px;font-size:26.0px;color:#3a3a3a;transform:scaleX(0.9220);">Salle 2 Rex</div>
<div class="ln R" style="left:1477.6px;top:149.89px;font-size:26.0px;color:#3a3a3a;transform:scaleX(0.9220);">Salle 3 Rex</div>
<div class="ln R" style="left:1764.8px;top:149.89px;font-size:26.0px;color:#3a3a3a;transform:scaleX(0.9728);">Événements</div>
<div class="bx" style="left:1353.6px;top:177.3px;width:288.7px;height:90.8px;background:#2779db"></div>
<div class="ln B" style="left:897.9px;top:179.55px;font-size:16.6px;color:#ffffff;transform:scaleX(1.0750);">10h</div>
<div class="ln B" style="left:897.9px;top:199.55px;font-size:16.6px;color:#ffffff;transform:scaleX(1.0750);">SÉANCE SPÉCIALE</div>
<div class="ln R" style="left:898.8px;top:223.76px;font-size:18.0px;color:#ffffff;transform:scaleX(0.7868);"><i>Un pincement au cœur</i> de Guillaume Brac</div>
<div class="ln R" style="left:898.8px;top:243.76px;font-size:18.0px;color:#ffffff;transform:scaleX(0.8043);">Suivi d’un débat critique - Ouvert à tous</div>
<div class="bx" style="left:1644.6px;top:177.3px;width:576.4px;height:90.8px;background:#9dc3ee"></div>
<div class="ln B" style="left:1332.5px;top:201.75px;font-size:16.6px;color:#1d1d1b;transform:scaleX(1.0750);">8h - 12h</div>
<div class="ln B" style="left:1332.5px;top:222.45px;font-size:16.6px;color:#1d1d1b;transform:scaleX(1.0750);">SÉANCES SCOLAIRES</div>
<div class="bx" style="left:2224.3px;top:177.3px;width:275.9px;height:204.0px;background:#414045"></div>
<div class="ln R" style="left:1761.4px;top:224.84px;font-size:19.5px;color:#ffffff;transform:scaleX(1.0313);">Médiathèque</div>
<div class="ln B" style="left:1762.2px;top:249.25px;font-size:16.6px;color:#ffffff;transform:scaleX(1.0750);">10h</div>
<div class="ln B" style="left:1762.2px;top:271.95px;font-size:16.6px;color:#ffffff;transform:scaleX(1.0750);">TABLE RONDE</div>
<div class="ln B" style="left:1762.2px;top:292.35px;font-size:16.6px;color:#ffffff;transform:scaleX(1.0750);">SRF / ALCA</div>
<div class="ln B" style="left:1762.2px;top:313.35px;font-size:16.6px;color:#ffffff;transform:scaleX(1.0750);">NOUVELLE-AQUITAINE</div>
<div class="bx" style="left:1353.6px;top:270.2px;width:288.7px;height:111.1px;background:#e8a92b"></div>
<div class="ln B" style="left:897.9px;top:273.15px;font-size:16.6px;color:#1d1d1b;transform:scaleX(1.0750);">14h</div>
<div class="ln B" style="left:897.9px;top:293.75px;font-size:16.6px;color:#1d1d1b;transform:scaleX(1.0750);">COMPÉTITION PROGRAMME 7</div>
<div class="ln I" style="left:899.1px;top:318.00px;font-size:17.6px;color:#1d1d1b;transform:scaleX(0.7863);">Petar <span class="n">(47’)</span></div>
<div class="ln I" style="left:898.8px;top:338.70px;font-size:17.6px;color:#1d1d1b;transform:scaleX(0.8032);">Madame Rodin ou l’Âge mûr <span class="n">(40’)</span></div>
<svg class="ic" style="left:1440.8px;top:322.3px;width:16.2px;height:16.2px;color:#1d1d1b" viewBox="0 0 44 44"><rect x="2.30" y="2.30" width="39.40" height="39.40" rx="16.500" ry="16.500" fill="none" stroke="currentColor" stroke-width="4.6"/><ellipse cx="31.400" cy="21" rx="8.6" ry="9.6" fill="currentColor"/><path d="M28.500 27.500h6l.4 3.200q3.200 1.200 6.600 2.600l-3.600 6.200h-12z" fill="currentColor"/><ellipse cx="15.400" cy="18.400" rx="9.6" ry="11.0" fill="currentColor"/><path d="M11.800 26h7.200l.600 4.600q4 2.600 9.400 3.400l2 5.500h-26.500l-2.200-4.700q4.600-2.200 9-4.200z" fill="currentColor"/><path d="M2.800 31.500q9 -2.500 19.200 1q10 -3 19.200 -1q-1.500 5.500 -5.700 8.300h-27q-4.200 -2.800 -5.700 -8.300z" fill="currentColor"/></svg>
<svg class="ic" style="left:1368.3px;top:343.5px;width:16.2px;height:16.2px;color:#1d1d1b" viewBox="0 0 44 44"><rect x="2.30" y="2.30" width="39.40" height="39.40" rx="16.500" ry="16.500" fill="none" stroke="currentColor" stroke-width="4.6"/><ellipse cx="31.400" cy="21" rx="8.6" ry="9.6" fill="currentColor"/><path d="M28.500 27.500h6l.4 3.200q3.200 1.200 6.600 2.600l-3.600 6.200h-12z" fill="currentColor"/><ellipse cx="15.400" cy="18.400" rx="9.6" ry="11.0" fill="currentColor"/><path d="M11.800 26h7.200l.600 4.600q4 2.600 9.400 3.400l2 5.500h-26.500l-2.200-4.700q4.600-2.200 9-4.200z" fill="currentColor"/><path d="M2.800 31.500q9 -2.500 19.200 1q10 -3 19.200 -1q-1.500 5.500 -5.700 8.300h-27q-4.200 -2.800 -5.700 -8.300z" fill="currentColor"/></svg>
<div class="bx" style="left:1644.6px;top:270.2px;width:286.5px;height:111.1px;background:#2779db"></div>
<div class="ln B" style="left:1187.8px;top:273.15px;font-size:16.6px;color:#ffffff;transform:scaleX(1.0750);">14h30</div>
<div class="ln B" style="left:1187.8px;top:293.75px;font-size:16.6px;color:#ffffff;transform:scaleX(1.0750);">SÉANCE RÉGION</div>
<div class="ln B" style="left:1187.8px;top:313.85px;font-size:16.6px;color:#ffffff;transform:scaleX(1.0750);">NOUVELLE-AQUITAINE</div>
<div class="ln I" style="left:1188.4px;top:338.70px;font-size:17.6px;color:#ffffff;transform:scaleX(0.7971);">Sardine <span class="n">(30’)</span></div>
<div class="ln I" style="left:1188.2px;top:359.30px;font-size:17.6px;color:#ffffff;transform:scaleX(0.7918);">Amour Océan <span class="n">(30’)</span></div>
<svg class="ic" style="left:1723.5px;top:341.8px;width:16.2px;height:16.2px;color:#ffffff" viewBox="0 0 44 44"><rect x="2.30" y="2.30" width="39.40" height="39.40" rx="16.500" ry="16.500" fill="none" stroke="currentColor" stroke-width="4.6"/><ellipse cx="31.400" cy="21" rx="8.6" ry="9.6" fill="currentColor"/><path d="M28.500 27.500h6l.4 3.200q3.200 1.200 6.600 2.600l-3.600 6.200h-12z" fill="currentColor"/><ellipse cx="15.400" cy="18.400" rx="9.6" ry="11.0" fill="currentColor"/><path d="M11.800 26h7.200l.600 4.600q4 2.600 9.400 3.400l2 5.500h-26.500l-2.200-4.700q4.600-2.200 9-4.200z" fill="currentColor"/><path d="M2.800 31.500q9 -2.500 19.200 1q10 -3 19.200 -1q-1.500 5.500 -5.700 8.300h-27q-4.200 -2.800 -5.700 -8.300z" fill="currentColor"/></svg>
<svg class="ic" style="left:1702.9px;top:361.9px;width:16.2px;height:16.2px;color:#ffffff" viewBox="0 0 44 44"><rect x="2.30" y="2.30" width="39.40" height="39.40" rx="16.500" ry="16.500" fill="none" stroke="currentColor" stroke-width="4.6"/><ellipse cx="31.400" cy="21" rx="8.6" ry="9.6" fill="currentColor"/><path d="M28.500 27.500h6l.4 3.200q3.200 1.200 6.600 2.600l-3.600 6.200h-12z" fill="currentColor"/><ellipse cx="15.400" cy="18.400" rx="9.6" ry="11.0" fill="currentColor"/><path d="M11.800 26h7.200l.600 4.600q4 2.600 9.400 3.400l2 5.500h-26.500l-2.200-4.700q4.600-2.200 9-4.200z" fill="currentColor"/><path d="M2.800 31.500q9 -2.500 19.200 1q10 -3 19.200 -1q-1.500 5.500 -5.700 8.300h-27q-4.200 -2.800 -5.700 -8.300z" fill="currentColor"/></svg>
<div class="bx" style="left:1933.9px;top:270.2px;width:287.1px;height:111.1px;background:#edbb53"></div>
<div class="ln B" style="left:1477.4px;top:273.15px;font-size:16.6px;color:#1d1d1b;transform:scaleX(1.0750);">14h</div>
<div class="ln B" style="left:1477.4px;top:293.75px;font-size:16.6px;color:#1d1d1b;transform:scaleX(1.0750);">REPRISE COMPÉTITION</div>
<div class="ln B" style="left:1477.4px;top:313.85px;font-size:16.6px;color:#1d1d1b;transform:scaleX(1.0750);">PROGRAMME 6</div>
<div class="bx" style="left:1353.6px;top:384.8px;width:288.7px;height:93.8px;background:#e8a92b"></div>
<div class="ln B" style="left:897.9px;top:387.45px;font-size:16.6px;color:#1d1d1b;transform:scaleX(1.0750);">16h15</div>
<div class="ln B" style="left:897.9px;top:408.05px;font-size:16.6px;color:#1d1d1b;transform:scaleX(1.0750);">COMPÉTITION PROGRAMME 8</div>
<div class="ln I" style="left:897.9px;top:432.30px;font-size:17.6px;color:#1d1d1b;transform:scaleX(0.7970);">An Asian Ghost Story <span class="n">(37’)</span></div>
<div class="ln I" style="left:899.1px;top:452.90px;font-size:17.6px;color:#1d1d1b;transform:scaleX(0.7982);">Wild Fruits <span class="n">(35’)</span></div>
<svg class="ic" style="left:1419.1px;top:456.7px;width:16.2px;height:16.2px;color:#1d1d1b" viewBox="0 0 44 44"><rect x="2.30" y="2.30" width="39.40" height="39.40" rx="16.500" ry="16.500" fill="none" stroke="currentColor" stroke-width="4.6"/><ellipse cx="31.400" cy="21" rx="8.6" ry="9.6" fill="currentColor"/><path d="M28.500 27.500h6l.4 3.200q3.200 1.200 6.600 2.600l-3.600 6.200h-12z" fill="currentColor"/><ellipse cx="15.400" cy="18.400" rx="9.6" ry="11.0" fill="currentColor"/><path d="M11.800 26h7.200l.600 4.600q4 2.600 9.400 3.400l2 5.500h-26.500l-2.200-4.700q4.600-2.200 9-4.200z" fill="currentColor"/><path d="M2.800 31.500q9 -2.500 19.200 1q10 -3 19.200 -1q-1.500 5.500 -5.700 8.300h-27q-4.200 -2.800 -5.700 -8.300z" fill="currentColor"/></svg>
<div class="bx" style="left:1644.6px;top:384.8px;width:286.5px;height:93.8px;background:#789561"></div>
<div class="ln B" style="left:1188.4px;top:387.45px;font-size:16.6px;color:#ffffff;transform:scaleX(1.0750);">16h</div>
<div class="ln B" style="left:1187.8px;top:408.05px;font-size:16.6px;color:#ffffff;transform:scaleX(1.0750);">SÉRIE</div>
<div class="ln I" style="left:1187.8px;top:432.30px;font-size:17.6px;color:#ffffff;transform:scaleX(0.7970);">L’Île aux merveilles de Manöel</div>
<div class="ln R" style="left:1187.8px;top:452.76px;font-size:18.0px;color:#ffffff;transform:scaleX(0.7450);">ÉPISODE 2 (48’)</div>
<svg class="ic" style="left:1738.9px;top:390.9px;width:16.6px;height:16.6px;color:#ffffff" viewBox="0 0 44 44"><circle cx="22" cy="22" r="19.80" fill="none" stroke="currentColor" stroke-width="4.4"/><path d="M23.400 1.600v15.600q1.200 2.400 4.400 2.600l-3.400 4l6.200-3.800l11.800-.4a20.600 20.600 0 0 0-19-18z" fill="currentColor"/><ellipse cx="14.600" cy="18.800" rx="8.7" ry="10.5" fill="currentColor"/><path d="M11 26h7.400l.800 4.400q5.600 2.600 7.400 6.200l1.400 5.400q-3.200 1.200 -6 1.200q-10.800 0 -17.600 -9.200q3 -2.400 6 -3.400z" fill="currentColor"/></svg>
<div class="bx" style="left:1933.9px;top:384.8px;width:288.1px;height:93.8px;background:#edbb53"></div>
<div class="ln B" style="left:1477.4px;top:387.45px;font-size:16.6px;color:#1d1d1b;transform:scaleX(1.0750);">16h15</div>
<div class="ln B" style="left:1477.4px;top:408.05px;font-size:16.6px;color:#1d1d1b;transform:scaleX(1.0750);">REPRISE COMPÉTITION</div>
<div class="ln B" style="left:1477.4px;top:428.75px;font-size:16.6px;color:#1d1d1b;transform:scaleX(1.0750);">PROGRAMME 5</div>
<div class="bx" style="left:1353.6px;top:482.2px;width:288.7px;height:94.1px;background:#e8a92b"></div>
<div class="ln B" style="left:897.9px;top:485.05px;font-size:16.6px;color:#1d1d1b;transform:scaleX(1.0750);">18h15</div>
<div class="ln B" style="left:897.9px;top:505.65px;font-size:16.6px;color:#1d1d1b;transform:scaleX(1.0750);">COMPÉTITION PROGRAMME 9</div>
<div class="ln I" style="left:897.9px;top:529.90px;font-size:17.6px;color:#1d1d1b;transform:scaleX(0.7970);">Kaktuszember <span class="n">(47’)</span></div>
<div class="ln I" style="left:898.8px;top:549.90px;font-size:17.6px;color:#1d1d1b;transform:scaleX(0.8013);">L’Envoûtement <span class="n">(45’)</span></div>
<svg class="ic" style="left:1411.3px;top:554.3px;width:16.2px;height:16.2px;color:#1d1d1b" viewBox="0 0 44 44"><rect x="2.30" y="2.30" width="39.40" height="39.40" rx="16.500" ry="16.500" fill="none" stroke="currentColor" stroke-width="4.6"/><ellipse cx="31.400" cy="21" rx="8.6" ry="9.6" fill="currentColor"/><path d="M28.500 27.500h6l.4 3.200q3.200 1.200 6.600 2.600l-3.600 6.200h-12z" fill="currentColor"/><ellipse cx="15.400" cy="18.400" rx="9.6" ry="11.0" fill="currentColor"/><path d="M11.800 26h7.200l.600 4.600q4 2.600 9.400 3.400l2 5.500h-26.500l-2.200-4.700q4.600-2.200 9-4.200z" fill="currentColor"/><path d="M2.800 31.500q9 -2.500 19.200 1q10 -3 19.200 -1q-1.500 5.500 -5.700 8.300h-27q-4.200 -2.800 -5.700 -8.300z" fill="currentColor"/></svg>
<div class="bx" style="left:1644.6px;top:482.2px;width:286.5px;height:94.1px;background:#789561"></div>
<div class="ln B" style="left:1187.8px;top:485.05px;font-size:16.6px;color:#ffffff;transform:scaleX(1.0750);">17h15</div>
<div class="ln B" style="left:1187.8px;top:505.65px;font-size:16.6px;color:#ffffff;transform:scaleX(1.0750);">AMOURS IMPOSSIBLES</div>
<div class="ln I" style="left:1187.8px;top:529.90px;font-size:17.6px;color:#ffffff;transform:scaleX(0.7970);">Bluebeard’s Castle <span class="n">(60’)</span></div>
<svg class="ic" style="left:1738.3px;top:486.7px;width:16.6px;height:16.6px;color:#ffffff" viewBox="0 0 44 44"><circle cx="22" cy="22" r="19.80" fill="none" stroke="currentColor" stroke-width="4.4"/><path d="M23.400 1.600v15.600q1.200 2.400 4.400 2.600l-3.400 4l6.200-3.800l11.800-.4a20.600 20.600 0 0 0-19-18z" fill="currentColor"/><ellipse cx="14.600" cy="18.800" rx="8.7" ry="10.5" fill="currentColor"/><path d="M11 26h7.400l.800 4.400q5.600 2.600 7.400 6.200l1.400 5.400q-3.200 1.200 -6 1.200q-10.800 0 -17.600 -9.200q3 -2.400 6 -3.400z" fill="currentColor"/></svg>
<div class="bx" style="left:1933.9px;top:482.2px;width:288.1px;height:94.1px;background:#edbb53"></div>
<div class="ln B" style="left:1477.4px;top:485.05px;font-size:16.6px;color:#1d1d1b;transform:scaleX(1.0750);">18h15</div>
<div class="ln B" style="left:1477.4px;top:505.65px;font-size:16.6px;color:#1d1d1b;transform:scaleX(1.0750);">REPRISE COMPÉTITION</div>
<div class="ln B" style="left:1477.4px;top:526.25px;font-size:16.6px;color:#1d1d1b;transform:scaleX(1.0750);">PROGRAMME 4</div>
<svg class="ic" style="left:2071.3px;top:550.0px;width:19px;height:19px;color:#1d1d1b" viewBox="0 0 44 44"><circle cx="22" cy="22" r="20.300" fill="#fff" stroke="currentColor" stroke-width="3.200"/><text transform="translate(19.800 34.600) scale(0.64 1)" text-anchor="middle" font-family="Liberation Sans, sans-serif" font-weight="bold" font-size="37" fill="currentColor" stroke="currentColor" stroke-width="1.200" letter-spacing="0">-16</text></svg>
<div class="bx" style="left:1644.6px;top:579.7px;width:286.5px;height:82.0px;background:#789561"></div>
<div class="ln B" style="left:1187.8px;top:582.55px;font-size:16.6px;color:#ffffff;transform:scaleX(1.0750);">18h30</div>
<div class="ln B" style="left:1188.0px;top:603.15px;font-size:16.6px;color:#ffffff;transform:scaleX(1.0453);">LA TÉLÉVISION DES CINÉASTES</div>
<div class="ln I" style="left:1187.8px;top:627.40px;font-size:17.6px;color:#ffffff;transform:scaleX(0.7970);">Confessions of a Suburban Girl <span class="n">(51’)</span></div>
<svg class="ic" style="left:1738.3px;top:584.9px;width:16.6px;height:16.6px;color:#ffffff" viewBox="0 0 44 44"><circle cx="22" cy="22" r="19.80" fill="none" stroke="currentColor" stroke-width="4.4"/><path d="M23.400 1.600v15.600q1.200 2.400 4.400 2.600l-3.400 4l6.200-3.800l11.800-.4a20.600 20.600 0 0 0-19-18z" fill="currentColor"/><ellipse cx="14.600" cy="18.800" rx="8.7" ry="10.5" fill="currentColor"/><path d="M11 26h7.400l.800 4.400q5.600 2.600 7.400 6.200l1.400 5.400q-3.200 1.200 -6 1.200q-10.800 0 -17.600 -9.200q3 -2.400 6 -3.400z" fill="currentColor"/></svg>
<div class="bx" style="left:1353.6px;top:664.5px;width:868.4px;height:105.9px;background:#cd3e2b"></div>
<div class="ln R" style="left:1188.0px;top:673.04px;font-size:19.5px;color:#ffffff;transform:scaleX(1.0227);">Théâtre de Brive - <span style="font-size:15px">L’empreinte, Scène nationale Brive-Tulle</span></div>
<div class="ln B" style="left:1187.5px;top:696.85px;font-size:16.6px;color:#ffffff;transform:scaleX(1.0750);">20h30</div>
<div class="ln B" style="left:1187.5px;top:720.25px;font-size:16.6px;color:#ffffff;transform:scaleX(1.0750);">CINÉ-CONCERT</div>
<div class="ln B" style="left:1187.5px;top:740.95px;font-size:16.6px;color:#ffffff;transform:scaleX(1.0945);">Palombella Rossa / Karaoké poétique</div>
<div class="ln R" style="left:899.1px;top:860.89px;font-size:26.0px;color:#3a3a3a;transform:scaleX(0.9002);">Salle 1 Rex</div>
<div class="ln R" style="left:1188.0px;top:860.89px;font-size:26.0px;color:#3a3a3a;transform:scaleX(0.9220);">Salle 2 Rex</div>
<div class="ln R" style="left:1477.6px;top:860.89px;font-size:26.0px;color:#3a3a3a;transform:scaleX(0.9220);">Salle 3 Rex</div>
<div class="bx" style="left:1353.6px;top:889.2px;width:289.4px;height:73.0px;background:#414045"></div>
<div class="ln B" style="left:899.2px;top:893.75px;font-size:16.6px;color:#ffffff;transform:scaleX(1.1503);">10h/13h</div>
<div class="ln B" style="left:897.9px;top:914.25px;font-size:16.6px;color:#ffffff;transform:scaleX(1.0750);">PITCH TALENTS EN COURT</div>
<div class="ln B" style="left:897.9px;top:934.95px;font-size:16.6px;color:#ffffff;transform:scaleX(1.0750);">PITCH MOYEN MÉTRAGE</div>
<div class="bx" style="left:1643.0px;top:892.0px;width:578.0px;height:69.0px;background:#9dc3ee"></div>
<div class="ln B" style="left:1332.5px;top:904.75px;font-size:16.6px;color:#1d1d1b;transform:scaleX(1.0750);">8h - 12h</div>
<div class="ln B" style="left:1332.5px;top:924.75px;font-size:16.6px;color:#1d1d1b;transform:scaleX(1.0750);">SÉANCES SCOLAIRES</div>
<div class="bx" style="left:1353.6px;top:963.6px;width:288.7px;height:94.6px;background:#e8a92b"></div>
<div class="ln B" style="left:897.9px;top:967.25px;font-size:16.6px;color:#1d1d1b;transform:scaleX(1.0750);">14h</div>
<div class="ln B" style="left:898.8px;top:987.75px;font-size:16.6px;color:#1d1d1b;transform:scaleX(1.0787);">COMPÉTITION PROGRAMME 10</div>
<div class="ln I" style="left:897.9px;top:1011.90px;font-size:17.6px;color:#1d1d1b;transform:scaleX(0.7970);">Spirits of the Black Leaves <span class="n">(30’)</span></div>
<div class="ln I" style="left:898.6px;top:1032.70px;font-size:17.6px;color:#1d1d1b;transform:scaleX(0.7934);">Getting Older is Wonderful <span class="n">(57’)</span></div>
<svg class="ic" style="left:1376.2px;top:1035.9px;width:16.2px;height:16.2px;color:#1d1d1b" viewBox="0 0 44 44"><rect x="2.30" y="2.30" width="39.40" height="39.40" rx="16.500" ry="16.500" fill="none" stroke="currentColor" stroke-width="4.6"/><ellipse cx="31.400" cy="21" rx="8.6" ry="9.6" fill="currentColor"/><path d="M28.500 27.500h6l.4 3.200q3.200 1.200 6.600 2.600l-3.600 6.200h-12z" fill="currentColor"/><ellipse cx="15.400" cy="18.400" rx="9.6" ry="11.0" fill="currentColor"/><path d="M11.800 26h7.200l.600 4.600q4 2.600 9.400 3.400l2 5.500h-26.500l-2.200-4.700q4.600-2.200 9-4.200z" fill="currentColor"/><path d="M2.800 31.500q9 -2.500 19.200 1q10 -3 19.200 -1q-1.500 5.500 -5.700 8.300h-27q-4.200 -2.800 -5.700 -8.300z" fill="currentColor"/></svg>
<div class="bx" style="left:1644.6px;top:963.6px;width:286.5px;height:94.6px;background:#789561"></div>
<div class="ln B" style="left:1187.8px;top:967.25px;font-size:16.6px;color:#ffffff;transform:scaleX(1.0750);">14h15</div>
<div class="ln B" style="left:1187.8px;top:987.75px;font-size:16.6px;color:#ffffff;transform:scaleX(1.0750);">SÉRIE</div>
<div class="ln I" style="left:1187.8px;top:1011.90px;font-size:17.6px;color:#ffffff;transform:scaleX(0.7970);">L’Île aux merveilles de Manöel</div>
<div class="ln R" style="left:1187.8px;top:1032.56px;font-size:18.0px;color:#ffffff;transform:scaleX(0.7450);">ÉPISODE 3 (50’)</div>
<svg class="ic" style="left:1737.2px;top:969.5px;width:16.6px;height:16.6px;color:#ffffff" viewBox="0 0 44 44"><circle cx="22" cy="22" r="19.80" fill="none" stroke="currentColor" stroke-width="4.4"/><path d="M23.400 1.600v15.600q1.200 2.400 4.400 2.600l-3.400 4l6.200-3.800l11.800-.4a20.600 20.600 0 0 0-19-18z" fill="currentColor"/><ellipse cx="14.600" cy="18.800" rx="8.7" ry="10.5" fill="currentColor"/><path d="M11 26h7.400l.800 4.400q5.600 2.600 7.400 6.200l1.400 5.400q-3.200 1.200 -6 1.200q-10.800 0 -17.600 -9.200q3 -2.400 6 -3.400z" fill="currentColor"/></svg>
<div class="bx" style="left:1933.9px;top:963.6px;width:287.1px;height:94.6px;background:#edbb53"></div>
<div class="ln B" style="left:1477.4px;top:967.25px;font-size:16.6px;color:#1d1d1b;transform:scaleX(1.0750);">14h</div>
<div class="ln B" style="left:1477.4px;top:987.75px;font-size:16.6px;color:#1d1d1b;transform:scaleX(1.0750);">REPRISE COMPÉTITION</div>
<div class="ln B" style="left:1477.4px;top:1008.45px;font-size:16.6px;color:#1d1d1b;transform:scaleX(1.0750);">PROGRAMME 7</div>
<div class="bx" style="left:1353.6px;top:1061.7px;width:288.7px;height:93.9px;background:#e8a92b"></div>
<div class="ln B" style="left:897.9px;top:1064.75px;font-size:16.6px;color:#1d1d1b;transform:scaleX(1.0750);">16h30</div>
<div class="ln B" style="left:898.2px;top:1085.45px;font-size:16.6px;color:#1d1d1b;transform:scaleX(1.0787);">COMPÉTITION PROGRAMME 11</div>
<div class="ln I" style="left:898.0px;top:1109.70px;font-size:17.6px;color:#1d1d1b;transform:scaleX(0.8007);">Fureru <span class="n">(60’)</span></div>
<div class="ln I" style="left:898.2px;top:1130.30px;font-size:17.6px;color:#1d1d1b;transform:scaleX(0.8088);">Skatepark <span class="n">(35’)</span></div>
<svg class="ic" style="left:1433.9px;top:1112.3px;width:16.6px;height:16.6px;color:#1d1d1b" viewBox="0 0 44 44"><circle cx="22" cy="22" r="19.80" fill="none" stroke="currentColor" stroke-width="4.4"/><path d="M23.400 1.600v15.600q1.200 2.400 4.400 2.600l-3.400 4l6.200-3.800l11.800-.4a20.600 20.600 0 0 0-19-18z" fill="currentColor"/><ellipse cx="14.600" cy="18.800" rx="8.7" ry="10.5" fill="currentColor"/><path d="M11 26h7.400l.800 4.400q5.600 2.600 7.400 6.200l1.400 5.400q-3.200 1.200 -6 1.200q-10.800 0 -17.600 -9.200q3 -2.400 6 -3.400z" fill="currentColor"/></svg>
<svg class="ic" style="left:1426.3px;top:1135.2px;width:16.2px;height:16.2px;color:#1d1d1b" viewBox="0 0 44 44"><rect x="2.30" y="2.30" width="39.40" height="39.40" rx="16.500" ry="16.500" fill="none" stroke="currentColor" stroke-width="4.6"/><ellipse cx="31.400" cy="21" rx="8.6" ry="9.6" fill="currentColor"/><path d="M28.500 27.500h6l.4 3.200q3.200 1.200 6.600 2.600l-3.600 6.200h-12z" fill="currentColor"/><ellipse cx="15.400" cy="18.400" rx="9.6" ry="11.0" fill="currentColor"/><path d="M11.800 26h7.200l.600 4.600q4 2.600 9.400 3.400l2 5.500h-26.500l-2.200-4.700q4.600-2.200 9-4.200z" fill="currentColor"/><path d="M2.800 31.500q9 -2.500 19.200 1q10 -3 19.200 -1q-1.500 5.500 -5.700 8.300h-27q-4.200 -2.800 -5.700 -8.300z" fill="currentColor"/></svg>
<div class="bx" style="left:1644.6px;top:1061.7px;width:286.5px;height:93.9px;background:#789561"></div>
<div class="ln B" style="left:1187.8px;top:1064.75px;font-size:16.6px;color:#ffffff;transform:scaleX(1.0750);">15h30</div>
<div class="ln B" style="left:1187.8px;top:1085.45px;font-size:16.6px;color:#ffffff;transform:scaleX(1.0750);">AMOURS IMPOSSIBLES</div>
<div class="ln I" style="left:1187.8px;top:1109.70px;font-size:17.6px;color:#ffffff;transform:scaleX(0.7970);">Sur la dune de la solitude <span class="n">(32’)</span></div>
<div class="ln I" style="left:1187.8px;top:1130.30px;font-size:17.6px;color:#ffffff;transform:scaleX(0.7970);">Romeo and Juliet in the Snow <span class="n">(48’)</span></div>
<svg class="ic" style="left:1737.2px;top:1065.4px;width:16.6px;height:16.6px;color:#ffffff" viewBox="0 0 44 44"><circle cx="22" cy="22" r="19.80" fill="none" stroke="currentColor" stroke-width="4.4"/><path d="M23.400 1.600v15.600q1.200 2.400 4.400 2.600l-3.400 4l6.200-3.800l11.800-.4a20.600 20.600 0 0 0-19-18z" fill="currentColor"/><ellipse cx="14.600" cy="18.800" rx="8.7" ry="10.5" fill="currentColor"/><path d="M11 26h7.400l.800 4.400q5.600 2.600 7.400 6.200l1.400 5.400q-3.200 1.200 -6 1.200q-10.800 0 -17.600 -9.200q3 -2.400 6 -3.400z" fill="currentColor"/></svg>
<div class="bx" style="left:1933.9px;top:1061.7px;width:287.1px;height:93.9px;background:#edbb53"></div>
<div class="ln B" style="left:1477.4px;top:1064.75px;font-size:16.6px;color:#1d1d1b;transform:scaleX(1.0750);">16h30</div>
<div class="ln B" style="left:1477.4px;top:1085.45px;font-size:16.6px;color:#1d1d1b;transform:scaleX(1.0750);">REPRISE COMPÉTITION</div>
<div class="ln B" style="left:1477.4px;top:1106.05px;font-size:16.6px;color:#1d1d1b;transform:scaleX(1.0750);">PROGRAMME 8</div>
<div class="bx" style="left:1355.3px;top:1159.1px;width:287.0px;height:94.4px;background:#789561"></div>
<div class="ln B" style="left:897.9px;top:1162.35px;font-size:16.6px;color:#ffffff;transform:scaleX(1.0750);">19h</div>
<div class="ln B" style="left:897.9px;top:1182.95px;font-size:16.6px;color:#ffffff;transform:scaleX(1.0750);">AMOURS IMPOSSIBLES</div>
<div class="ln I" style="left:897.9px;top:1207.20px;font-size:17.6px;color:#ffffff;transform:scaleX(0.7970);">The Hand <span class="n">(56’)</span></div>
<svg class="ic" style="left:1459.0px;top:1164.7px;width:16.6px;height:16.6px;color:#ffffff" viewBox="0 0 44 44"><circle cx="22" cy="22" r="19.80" fill="none" stroke="currentColor" stroke-width="4.4"/><path d="M23.400 1.600v15.600q1.200 2.400 4.400 2.600l-3.400 4l6.200-3.800l11.800-.4a20.600 20.600 0 0 0-19-18z" fill="currentColor"/><ellipse cx="14.600" cy="18.800" rx="8.7" ry="10.5" fill="currentColor"/><path d="M11 26h7.400l.800 4.400q5.600 2.600 7.400 6.200l1.400 5.400q-3.200 1.200 -6 1.200q-10.800 0 -17.600 -9.200q3 -2.400 6 -3.400z" fill="currentColor"/></svg>
<div class="bx" style="left:1644.6px;top:1159.1px;width:286.5px;height:94.4px;background:#789561"></div>
<div class="ln B" style="left:1187.8px;top:1162.35px;font-size:16.6px;color:#ffffff;transform:scaleX(1.0750);">17h30</div>
<div class="ln B" style="left:1187.8px;top:1182.95px;font-size:16.6px;color:#ffffff;transform:scaleX(1.0750);">MODERNITÉ IRANIENNE</div>
<div class="ln I" style="left:1187.8px;top:1207.20px;font-size:17.6px;color:#ffffff;transform:scaleX(0.7970);">The Night It Rained <span class="n">(38’)</span></div>
<div class="ln I" style="left:1187.8px;top:1227.90px;font-size:17.6px;color:#ffffff;transform:scaleX(0.7970);">L’Attente <span class="n">(48’)</span></div>
<svg class="ic" style="left:1735.5px;top:1164.1px;width:16.6px;height:16.6px;color:#ffffff" viewBox="0 0 44 44"><circle cx="22" cy="22" r="19.80" fill="none" stroke="currentColor" stroke-width="4.4"/><path d="M23.400 1.600v15.600q1.200 2.400 4.400 2.600l-3.400 4l6.200-3.800l11.800-.4a20.600 20.600 0 0 0-19-18z" fill="currentColor"/><ellipse cx="14.600" cy="18.800" rx="8.7" ry="10.5" fill="currentColor"/><path d="M11 26h7.400l.800 4.400q5.600 2.600 7.400 6.200l1.400 5.400q-3.200 1.200 -6 1.200q-10.800 0 -17.600 -9.200q3 -2.400 6 -3.400z" fill="currentColor"/></svg>
<div class="bx" style="left:1933.9px;top:1159.1px;width:287.1px;height:94.4px;background:#2779db"></div>
<div class="ln B" style="left:1477.4px;top:1162.35px;font-size:16.6px;color:#ffffff;transform:scaleX(1.0750);">18h15</div>
<div class="ln B" style="left:1477.4px;top:1182.95px;font-size:16.6px;color:#ffffff;transform:scaleX(1.0750);">SÉANCE CINÉMATHÈQUE</div>
<div class="ln I" style="left:1477.4px;top:1207.20px;font-size:17.6px;color:#ffffff;transform:scaleX(0.7970);">Où finit la vie <span class="n">(56’)</span></div>
<svg class="ic" style="left:2025.4px;top:1164.1px;width:16.6px;height:16.6px;color:#ffffff" viewBox="0 0 44 44"><circle cx="22" cy="22" r="19.80" fill="none" stroke="currentColor" stroke-width="4.4"/><path d="M23.400 1.600v15.600q1.200 2.400 4.400 2.600l-3.400 4l6.200-3.800l11.800-.4a20.600 20.600 0 0 0-19-18z" fill="currentColor"/><ellipse cx="14.600" cy="18.800" rx="8.7" ry="10.5" fill="currentColor"/><path d="M11 26h7.400l.800 4.400q5.600 2.600 7.400 6.200l1.400 5.400q-3.200 1.200 -6 1.200q-10.800 0 -17.600 -9.200q3 -2.400 6 -3.400z" fill="currentColor"/></svg>
<div class="bx" style="left:1353.6px;top:1256.7px;width:867.4px;height:68.6px;background:#cd3e2b"></div>
<div class="ln R" style="left:1187.5px;top:1270.99px;font-size:18.5px;color:#ffffff;transform:scaleX(1.0000);">Salle <b>1 à 21h</b></div>
<div class="ln B" style="left:1187.5px;top:1293.95px;font-size:16.6px;color:#ffffff;transform:scaleX(1.0750);">KARAÔCINÉ</div>
<div class="ln R" style="left:899.1px;top:1417.69px;font-size:26.0px;color:#3a3a3a;transform:scaleX(0.9002);">Salle 1 Rex</div>
<div class="ln R" style="left:1188.0px;top:1417.69px;font-size:26.0px;color:#3a3a3a;transform:scaleX(0.9220);">Salle 2 Rex</div>
<div class="ln R" style="left:1477.6px;top:1417.69px;font-size:26.0px;color:#3a3a3a;transform:scaleX(0.9220);">Salle 3 Rex</div>
<div class="ln R" style="left:1764.8px;top:1417.69px;font-size:26.0px;color:#3a3a3a;transform:scaleX(0.9728);">Événements</div>
<div class="bx" style="left:1355.3px;top:1446.1px;width:286.5px;height:91.1px;background:#789561"></div>
<div class="ln B" style="left:897.9px;top:1449.35px;font-size:16.6px;color:#ffffff;transform:scaleX(1.0750);">14h</div>
<div class="ln B" style="left:897.9px;top:1469.35px;font-size:16.6px;color:#ffffff;transform:scaleX(1.0750);">AMOURS IMPOSSIBLES</div>
<div class="ln I" style="left:897.9px;top:1494.30px;font-size:17.6px;color:#ffffff;transform:scaleX(0.7970);">Le Banc de la désolation <span class="n">(51’)</span></div>
<svg class="ic" style="left:1459.0px;top:1452.2px;width:16.6px;height:16.6px;color:#ffffff" viewBox="0 0 44 44"><circle cx="22" cy="22" r="19.80" fill="none" stroke="currentColor" stroke-width="4.4"/><path d="M23.400 1.600v15.600q1.200 2.400 4.400 2.600l-3.400 4l6.200-3.800l11.800-.4a20.600 20.600 0 0 0-19-18z" fill="currentColor"/><ellipse cx="14.600" cy="18.800" rx="8.7" ry="10.5" fill="currentColor"/><path d="M11 26h7.400l.800 4.400q5.600 2.600 7.400 6.200l1.400 5.400q-3.200 1.200 -6 1.200q-10.800 0 -17.600 -9.200q3 -2.400 6 -3.400z" fill="currentColor"/></svg>
<div class="bx" style="left:1932.8px;top:1446.1px;width:288.2px;height:91.1px;background:#cd3e2b"></div>
<div class="ln B" style="left:1477.4px;top:1449.35px;font-size:16.6px;color:#ffffff;transform:scaleX(1.0750);">14h</div>
<div class="ln B" style="left:1477.4px;top:1469.35px;font-size:16.6px;color:#ffffff;transform:scaleX(1.0750);">CINÉ-FAMILLE</div>
<div class="ln I" style="left:1478.0px;top:1493.60px;font-size:17.6px;color:#ffffff;transform:scaleX(0.8204);">L’Antilope d’or <span class="n">et</span> La Renarde et le lièvre</div>
<div class="ln R" style="left:1477.4px;top:1514.76px;font-size:18.0px;color:#ffffff;transform:scaleX(0.7800);">(44’)</div>
<div class="bx" style="left:1355.3px;top:1539.8px;width:286.5px;height:100.2px;background:#789561"></div>
<div class="ln B" style="left:897.9px;top:1542.45px;font-size:16.6px;color:#ffffff;transform:scaleX(1.0750);">15h15</div>
<div class="ln B" style="left:897.9px;top:1563.05px;font-size:16.6px;color:#ffffff;transform:scaleX(1.0750);">AMOURS IMPOSSIBLES</div>
<div class="ln I" style="left:897.9px;top:1588.20px;font-size:17.6px;color:#ffffff;transform:scaleX(0.7970);">La Tendre ennemie <span class="n">(62’)</span></div>
<svg class="ic" style="left:1449.0px;top:1545.8px;width:16.6px;height:16.6px;color:#ffffff" viewBox="0 0 44 44"><circle cx="22" cy="22" r="19.80" fill="none" stroke="currentColor" stroke-width="4.4"/><path d="M23.400 1.600v15.600q1.200 2.400 4.400 2.600l-3.400 4l6.200-3.800l11.800-.4a20.600 20.600 0 0 0-19-18z" fill="currentColor"/><ellipse cx="14.600" cy="18.800" rx="8.7" ry="10.5" fill="currentColor"/><path d="M11 26h7.400l.800 4.400q5.600 2.600 7.400 6.200l1.400 5.400q-3.200 1.200 -6 1.200q-10.800 0 -17.600 -9.200q3 -2.400 6 -3.400z" fill="currentColor"/></svg>
<div class="bx" style="left:1644.6px;top:1539.8px;width:286.5px;height:100.2px;background:#414045"></div>
<div class="ln B" style="left:1187.8px;top:1548.55px;font-size:16.6px;color:#ffffff;transform:scaleX(1.0750);">15h</div>
<div class="ln B" style="left:1187.8px;top:1570.75px;font-size:16.6px;color:#ffffff;transform:scaleX(1.0750);">DÉLIBÉRATION JURY DU PRIX</div>
<div class="ln B" style="left:1187.8px;top:1591.95px;font-size:16.6px;color:#ffffff;transform:scaleX(1.0750);">SFCC DE LA CRITIQUE</div>
<div class="ln B" style="left:1187.8px;top:1611.49px;font-size:18.5px;color:#ffffff;transform:scaleX(0.8050);">Ouvert à tous</div>
<div class="bx" style="left:1933.9px;top:1539.8px;width:287.1px;height:100.2px;background:#789561"></div>
<div class="ln B" style="left:1477.4px;top:1541.75px;font-size:16.6px;color:#ffffff;transform:scaleX(1.0750);">15h</div>
<div class="ln B" style="left:1477.5px;top:1561.35px;font-size:16.6px;color:#ffffff;transform:scaleX(0.9929);">HOMMAGE À LAURENT ACHARD</div>
<div class="ln I" style="left:1478.2px;top:1585.06px;font-size:16.0px;color:#ffffff;transform:scaleX(0.8247);">Dimanche ou les fantômes <span class="n">(30’)</span></div>
<div class="ln I" style="left:1477.9px;top:1601.86px;font-size:16.0px;color:#ffffff;transform:scaleX(0.8192);">Une odeur de géranium <span class="n">(30’)</span></div>
<div class="ln I" style="left:1477.5px;top:1618.66px;font-size:16.0px;color:#ffffff;transform:scaleX(0.8245);">La peur, petit chasseur <span class="n">(9’)</span></div>
<div class="bx" style="left:1355.3px;top:1642.6px;width:575.8px;height:66.7px;background:#cd3e2b"></div>
<div class="ln R" style="left:1043.2px;top:1654.99px;font-size:18.5px;color:#ffffff;transform:scaleX(1.0000);">Salle <b>1 à 17h</b></div>
<div class="ln B" style="left:977.0px;top:1678.35px;font-size:16.6px;color:#ffffff;transform:scaleX(1.0773);">CÉRÉMONIE DE REMISE DES PRIX</div>
<div class="ln R" style="left:1197.5px;top:1676.86px;font-size:18.0px;color:#ffffff;transform:scaleX(0.8189);">- suivie d’un apéritif</div>
<div class="bx" style="left:2224.3px;top:1643.3px;width:273.7px;height:131.5px;background:#cd3e2b"></div>
<div class="ln R" style="left:1761.2px;top:1652.04px;font-size:19.5px;color:#ffffff;transform:scaleX(1.0230);">Théâtre de Tulle - <span style="font-size:15px">L’empreinte,</span></div>
<div class="ln R" style="left:1761.0px;top:1672.00px;font-size:15px;color:#ffffff;transform:scaleX(1.0170);">Scène nationale Brive-Tulle</div>
<div class="ln B" style="left:1760.5px;top:1698.75px;font-size:16.6px;color:#ffffff;transform:scaleX(1.0740);">20h - SOIRÉE THÉÂTRE</div>
<div class="ln I" style="left:1762.2px;top:1722.70px;font-size:17.6px;color:#ffffff;transform:scaleX(0.7970);">La Loi du marcheur</div>
<div class="ln R" style="left:1760.8px;top:1744.16px;font-size:18.0px;color:#ffffff;transform:scaleX(0.7864);">par Nicolas Bouchaud</div>
<div class="bx" style="left:1355.3px;top:1712.2px;width:286.5px;height:63.8px;background:#edbb53"></div>
<div class="ln B" style="left:897.9px;top:1723.55px;font-size:16.6px;color:#1d1d1b;transform:scaleX(1.0750);">19h</div>
<div class="ln B" style="left:897.9px;top:1744.55px;font-size:16.6px;color:#1d1d1b;transform:scaleX(1.0750);">REPRISE DES FILMS PRIMÉS</div>
<div class="bx" style="left:1644.6px;top:1712.2px;width:286.5px;height:63.8px;background:#edbb53"></div>
<div class="ln B" style="left:1187.8px;top:1723.55px;font-size:16.6px;color:#1d1d1b;transform:scaleX(1.0750);">19h</div>
<div class="ln B" style="left:1187.8px;top:1744.55px;font-size:16.6px;color:#1d1d1b;transform:scaleX(1.0750);">REPRISE DES FILMS PRIMÉS</div>
<div class="bx" style="left:1933.9px;top:1712.2px;width:287.1px;height:63.8px;background:#edbb53"></div>
<div class="ln B" style="left:1477.4px;top:1723.55px;font-size:16.6px;color:#1d1d1b;transform:scaleX(1.0750);">19h</div>
<div class="ln B" style="left:1477.4px;top:1744.55px;font-size:16.6px;color:#1d1d1b;transform:scaleX(1.0750);">REPRISE DES FILMS PRIMÉS</div>
</body></html>
